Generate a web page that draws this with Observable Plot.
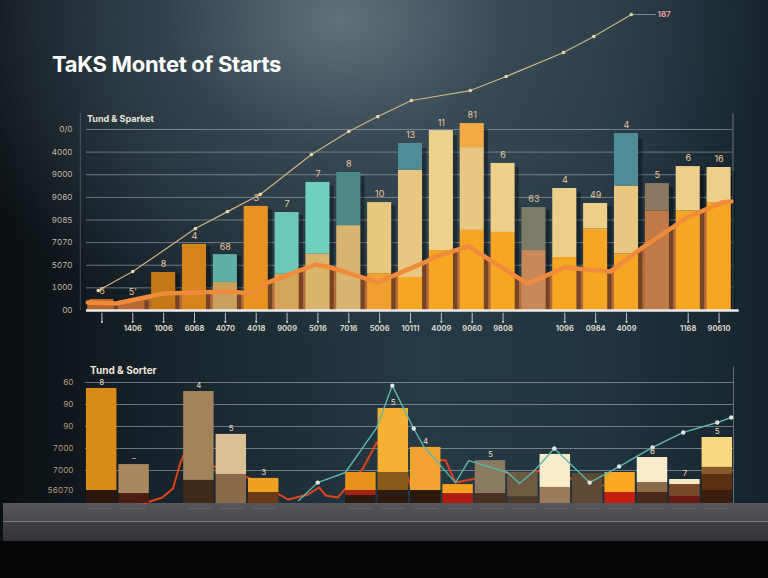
<!DOCTYPE html>
<html><head><meta charset="utf-8">
<script src="https://cdn.jsdelivr.net/npm/d3@7"></script>
<script src="https://cdn.jsdelivr.net/npm/@observablehq/plot@0.6"></script>
<style>
html,body{margin:0;padding:0;background:#060608;}
#stage{position:relative;width:768px;height:578px;overflow:hidden;font-family:Inter,"Noto Sans",sans-serif;
 background:
  radial-gradient(ellipse 430px 320px at 340px 20px, rgba(100,116,124,0.95) 0%, rgba(62,80,92,0.7) 40%, rgba(30,46,58,0) 100%),
  linear-gradient(90deg,#0a0f12 0%,#17242c 22%,#263a45 55%,#213440 78%,#16232b 100%);}
#shelf1{position:absolute;left:3px;top:503px;width:765px;height:18px;background:linear-gradient(#56565b,#48484d);}
#shelf2{position:absolute;left:3px;top:521px;width:765px;height:20px;background:linear-gradient(#403f44,#333237);border-top:1px solid #7a7a80;}
#floor{position:absolute;left:0;top:541px;width:768px;height:37px;background:#050507;}
#title{position:absolute;left:52px;top:51px;font-size:22px;font-weight:700;color:#ffffff;letter-spacing:-0.3px;}
.sub{position:absolute;font-size:9px;font-weight:700;color:#ece4da;}
#top{position:absolute;left:0;top:0;}
#bot{position:absolute;left:0;top:360px;}
</style></head>
<body><div id="stage">
<div id="shelf1"></div><div id="shelf2"></div><div id="floor"></div>
<div id="top"></div><div id="bot"></div>
<div id="title">TaKS Montet of Starts</div>
<div class="sub" style="left:87px;top:113px;">Tund &amp; Sparket</div>
<div class="sub" style="left:90px;top:364px;font-size:10px;">Tund &amp; Sorter</div>
</div>
<script>
// ---------- TOP CHART DATA ----------
const topLabels = ["6","5'","8","4","68","3","7","7","8","10","13","11","81","6","63","4","49","4","5","6","16"];
const topTotal  = [0.49,0.44,1.68,2.92,2.47,4.6,4.33,5.66,6.1,4.77,7.38,7.95,8.26,6.5,4.55,5.39,4.73,7.82,5.61,6.36,6.32];
const topMid    = [0.49,0.44,1.68,2.92,1.24,4.6,1.6,2.5,3.75,1.63,6.2,2.65,7.2,3.45,2.65,2.34,3.6,5.5,4.4,4.4,4.77];
const topLow    = [0.49,0.44,1.68,2.92,1.24,4.6,1.6,2.5,3.75,1.63,1.46,2.65,3.54,3.45,2.65,2.34,3.6,2.5,4.4,4.4,4.77];
const xTickLabels = ["","1406","1006","6068","4070","4018","9009","5016","7016","5006","10111","4009","9060","9808","","1096","0984","4009","","1168","90610"];
const xTickBars = [0,1,2,3,4,5,6,7,8,9,10,11,12,13,15,16,17,19,20];
const topYTicks  = [0,1,2,3,4,5,6,7,8];
const topYLabels = ["00","1000","5070","7070","9085","9060","9000","4000","0/0"];
const orangeX = [-0.46,0.46,2.0,4.0,5.0,5.28,6.91,7.41,8.94,10.38,10.91,11.88,13.79,15.0,16.47,17.52,18.96,20.09,20.4];
const orangeY = [0.35,0.31,0.75,0.84,0.75,1.19,2.03,1.9,1.24,2.08,2.43,2.83,1.19,1.9,1.72,2.78,4.11,4.77,4.82];
const trendX = [-0.12,1.0,3.03,4.07,5.13,6.79,8.0,8.94,10.03,11.94,13.1,14.96,15.94,17.16];
const trendY = [0.88,1.72,3.62,4.37,5.13,6.89,7.91,8.57,9.28,9.72,10.34,11.4,12.11,13.08];
const trendEndLabel = "187";

// colours (styles kept apart from values)
const topLowColor = ["#b5662c","#b96a30","#c47818","#d5841b","#c8a05c","#e8921f","#d4a458","#d9b56c","#d8b570","#f0a030","#f5a623","#f5a623","#f5a623","#f5a623","#c9885a","#f5a623","#f5a623","#f5a623","#c07a48","#f5a623","#f5a623"];
const topMidColor = ["#e8c880","#e8c880","#e8c880","#e8c880","#e8c880","#e8c880","#e8c880","#e8c880","#e8c880","#e6c87e","#e8c880","#e8c880","#e8c880","#e8c880","#e8c880","#e8c880","#e8c880","#e8c880","#e8c880","#e8c880","#e8c880"];
const topTopColor = ["#b5662c","#b96a30","#c47818","#d5841b","#5fb0a4","#e8921f","#6ec8b6","#6fd0bd","#4e8a88","#e6c87e","#4f8c98","#edd28c","#f3ac45","#ecd08a","#7c7a68","#ecd08a","#ecd08a","#4f8c98","#8a7762","#ecd08a","#ecd08a"];

// ---------- BOTTOM CHART DATA ----------
const botSlots  = 20;
const botLabels = ["8","–",null,"4","5","3",null,null,"","5","4","","5","","","","","6","7","5"];
const botS1     = [0.59,0.45,null,1.05,1.32,0.5,null,null,0.36,0.59,0.59,0.45,0.45,0.3,0.73,0,0.5,0.5,0.32,0.59];
const botS2     = [5.23,1.77,null,5.09,3.14,1.14,null,null,0.59,1.41,2.55,0.86,1.95,1.41,2.23,1.36,1.41,0.95,0.86,1.32];
const botS3     = [5.23,1.77,null,5.09,3.14,1.14,null,null,1.41,4.32,2.55,0.86,1.95,1.41,2.23,1.36,1.41,2.09,1.09,1.64];
const botTotal  = [5.23,1.77,null,5.09,3.14,1.14,null,null,1.41,4.32,2.55,0.86,1.95,1.41,2.23,1.36,1.41,2.09,1.09,3.0];
const botC1 = ["#2a170e","#4a1c12",null,"#3e2a1a","#8a6a48","#6a3a18",null,null,"#2a1a12","#2a1a10","#2a1a10","#b01c10","#4a3020","#4a3828","#9a7a58","#5e4a34","#c41f10","#4a2a18","#6a1a10","#3a1e0c"];
const botC2 = ["#d98b17","#a8895f",null,"#a3845a","#d9c194","#f0a020",null,null,"#a02412","#8a5a18","#f2a231","#f5a020","#8a7a62","#6e5a42","#f8eccb","#5e4a34","#f8a822","#8a6a48","#7a4a28","#5a3010"];
const botC3 = ["#d98b17","#a8895f",null,"#a3845a","#d9c194","#f0a020",null,null,"#e8921a","#f6b132","#f2a231","#f5a020","#8a7a62","#6e5a42","#f8eccb","#5e4a34","#f8a822","#f8eccb","#f8ecc8","#8a5a28"];
const botC4 = ["#d98b17","#a8895f",null,"#a3845a","#d9c194","#f0a020",null,null,"#e8921a","#f6b132","#f2a231","#f5a020","#8a7a62","#6e5a42","#f8eccb","#5e4a34","#f8a822","#f8eccb","#f8ecc8","#f8d880"];
const botYTicks  = [0.6,1.5,2.5,3.5,4.5,5.5];
const botYLabels = ["56070","7000","7000","90","90","60"];
const botGrid    = [1.5,2.5,3.5,4.5,5.5];
const tealX = [6.08,6.67,7.52,8.49,8.97,9.63,9.94,10.92,11.33,12.53,12.9,13.36,13.97,14.58,15.06,15.97,17.0,17.95,19.0,19.43];
const tealY = [0.14,0.95,1.41,3.45,5.36,3.41,2.59,0.95,1.95,1.41,0.91,1.5,2.5,1.64,0.95,1.68,2.55,3.23,3.68,3.91];
const tealDots = [1,4,5,12,14,15,16,17,18,19];
const redX = [1.3,1.87,2.2,2.43,2.57,3.53,4.59,5.76,6.37,6.71,6.92,7.28,8.06,8.49,9.35,9.55,9.65,9.88,10.62,10.92,12.53,12.9,13.36,15.06,15.48];
const redY = [0.0,0.27,0.68,1.86,2.32,1.64,1.14,0.18,0.41,0.73,0.36,0.27,1.59,2.77,1.64,0.73,0.36,2.05,1.95,0.95,1.41,0.91,1.5,0.95,0.82];

// ---------- TOP CHART ----------
const n = topTotal.length;
const idx = d3.range(n);
const half = 0.39;
const xDom = [-0.5, n - 0.5];
const segs = idx.flatMap(i => [
  {i, y1: 0, y2: topLow[i], c: topLowColor[i]},
  {i, y1: topLow[i], y2: topMid[i], c: topMidColor[i]},
  {i, y1: topMid[i], y2: topTotal[i], c: topTopColor[i]}
]).filter(d => d.y2 > d.y1);
const orange = orangeX.map((x, k) => ({x, y: orangeY[k]}));
const trend = trendX.map((x, k) => ({x, y: trendY[k]}));
const last = trend[trend.length - 1];

const topPlot = Plot.plot({
  width: 768, height: 340,
  marginLeft: 86, marginRight: 34, marginTop: 0, marginBottom: 30,
  x: {type: "linear", domain: xDom, axis: null},
  y: {domain: [0, 13.7], axis: null},
  style: {background: "transparent", overflow: "visible", fontFamily: "Inter, sans-serif"},
  marks: [
    Plot.ruleY(topYTicks.slice(1), {x1: xDom[0], x2: xDom[1] - 0.05, stroke: "#aeb7bb", strokeOpacity: 0.55, strokeWidth: 1}),
    Plot.ruleX([xDom[1] - 0.05], {y1: 0, y2: 8.7, stroke: "#aeb7bb", strokeOpacity: 0.55}),
    Plot.ruleX([xDom[0] - 0.2], {y1: 0, y2: 8.7, stroke: "#aeb7bb", strokeOpacity: 0.3}),
    Plot.axisY(topYTicks, {tickFormat: d => topYLabels[topYTicks.indexOf(d)], tickSize: 0, tickPadding: 14, fill: "#c2b8aa", fontSize: 8}),
    Plot.areaY(orange, {x: "x", y: "y", fill: "#bd6d3a", fillOpacity: 0.95}),
    Plot.rect(idx, {x1: i => i + half, x2: i => i + half + 0.14, y1: 0, y2: i => topTotal[i] * 0.97, fill: "#000", fillOpacity: 0.35}),
    Plot.rect(segs, {x1: d => d.i - half, x2: d => d.i + half, y1: "y1", y2: "y2", fill: d => d.c}),
    Plot.line(orange, {x: "x", y: "y", stroke: "#ef8b3b", strokeWidth: 4.5, strokeLinejoin: "round"}),
    Plot.line(trend, {x: "x", y: "y", stroke: "#cdb382", strokeWidth: 1.2}),
    Plot.dot(trend, {x: "x", y: "y", r: 1.8, fill: "#ead7a6"}),
    Plot.link([last], {x1: "x", y1: "y", x2: d => d.x + 0.8, y2: "y", stroke: "#8a9aa0", strokeWidth: 0.8}),
    Plot.text([last], {x: d => d.x + 0.8, y: "y", text: () => trendEndLabel, dx: 8, fill: "#e39c9c", fontSize: 8, fontWeight: 700}),
    Plot.text(idx, {x: i => i, y: i => topTotal[i], text: i => topLabels[i], dy: -8, fill: "#ebc79e", fontSize: 9}),
    Plot.ruleY([0], {x1: xDom[0], x2: xDom[1] + 0.15, stroke: "#ececec", strokeWidth: 2.5}),
    Plot.ruleX(xTickBars, {x: d => d, y1: -0.12, y2: -0.48, stroke: "#c4c4c4", strokeWidth: 1}),
    Plot.dot(xTickBars, {x: d => d, y: -0.5, r: 1.1, fill: "#d0d0d0"}),
    Plot.text(xTickBars, {x: d => d, y: -0.78, text: d => xTickLabels[d], fill: "#d9d2c8", fontSize: 7.5, fontWeight: 700})
  ]
});
document.getElementById("top").appendChild(topPlot);

// ---------- BOTTOM CHART ----------
const bIdx = d3.range(botSlots).filter(i => botTotal[i] != null);
const bSegs = bIdx.flatMap(i => [
  {i, y1: 0, y2: botS1[i], c: botC1[i]},
  {i, y1: botS1[i], y2: botS2[i], c: botC2[i]},
  {i, y1: botS2[i], y2: botS3[i], c: botC3[i]},
  {i, y1: botS3[i], y2: botTotal[i], c: botC4[i]}
]).filter(d => d.y2 > d.y1);
const teal = tealX.map((x, k) => ({x, y: tealY[k]}));
const red = redX.map((x, k) => ({x, y: redY[k]}));
const bDom = [-0.5, botSlots - 0.5];
const bh = 0.47;

const botPlot = Plot.plot({
  width: 768, height: 160,
  marginLeft: 85, marginRight: 35, marginTop: 11, marginBottom: 17,
  x: {type: "linear", domain: bDom, axis: null},
  y: {domain: [0, 6], axis: null},
  style: {background: "transparent", overflow: "visible", fontFamily: "Inter, sans-serif"},
  marks: [
    Plot.ruleY(botGrid, {x1: bDom[0], x2: bDom[1], stroke: "#b4bcc0", strokeOpacity: 0.55}),
    Plot.ruleX([bDom[1]], {y1: 0, y2: 6.2, stroke: "#b4bcc0", strokeOpacity: 0.5}),
    Plot.axisY(botYTicks, {tickFormat: d => botYLabels[botYTicks.indexOf(d)], tickSize: 0, tickPadding: 12, fill: "#b99a80", fontSize: 8}),
    Plot.line(red, {x: "x", y: "y", stroke: "#e0421e", strokeWidth: 2}),
    Plot.rect(bSegs, {x1: d => d.i - bh, x2: d => d.i + bh, y1: "y1", y2: "y2", fill: d => d.c}),
    Plot.line(teal, {x: "x", y: "y", stroke: "#5cb8a8", strokeWidth: 1.4}),
    Plot.dot(tealDots, {x: k => tealX[k], y: k => tealY[k], r: 2.2, fill: "#dfe6e2"}),
    Plot.text(bIdx, {x: i => i, y: i => botTotal[i], text: i => botLabels[i], dy: -6, fill: "#e6d6c0", fontSize: 8}),
    Plot.text(bIdx, {x: i => i, y: -0.23, text: () => "——————", fill: "#85858a", fontSize: 4})
  ]
});
document.getElementById("bot").appendChild(botPlot);
</script>
</body></html>
